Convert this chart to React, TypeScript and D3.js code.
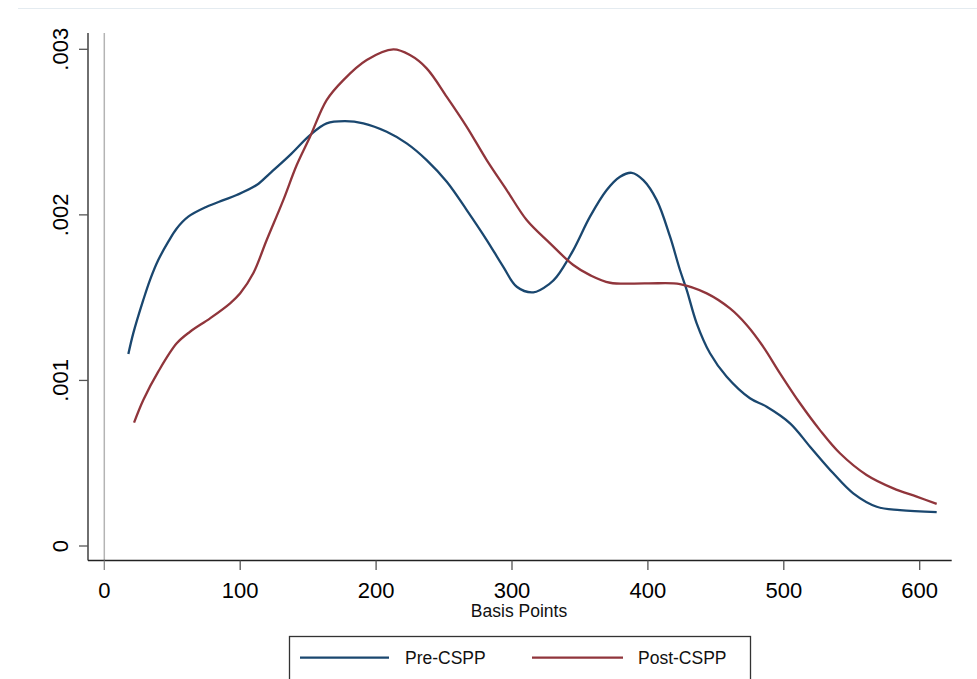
import * as d3 from "d3";
import { useEffect, useRef } from "react";

// kernel density estimates (basis points, density)
const preX = [17.7, 21.3, 28.7, 33.6, 39.7, 47.1, 53.3, 61.8, 75.3, 87.6, 97.4, 112.1, 121.9, 136.6, 151.4, 163.6, 177.1, 190.6, 207.8, 222.5, 237.2, 252.0, 266.7, 281.4, 293.6, 303.5, 315.7, 328.0, 332.9, 345.1, 357.4, 369.7, 379.5, 388.1, 396.6, 406.5, 416.3, 423.6, 428.6, 435.9, 445.7, 458.0, 475.1, 487.4, 504.6, 519.3, 536.4, 551.1, 568.4, 585.5, 612.5];
const preY = [1.159, 1.284, 1.486, 1.606, 1.727, 1.838, 1.918, 1.989, 2.049, 2.089, 2.12, 2.18, 2.251, 2.361, 2.482, 2.553, 2.566, 2.553, 2.502, 2.432, 2.331, 2.2, 2.029, 1.848, 1.686, 1.566, 1.532, 1.586, 1.626, 1.787, 1.989, 2.15, 2.23, 2.254, 2.21, 2.089, 1.868, 1.667, 1.546, 1.345, 1.164, 1.022, 0.892, 0.841, 0.741, 0.6, 0.439, 0.318, 0.237, 0.217, 0.204];
const postX = [21.9, 28.7, 39.7, 53.3, 63.1, 77.8, 92.6, 100.0, 109.6, 119.5, 131.7, 141.6, 151.4, 163.6, 175.9, 193.1, 212.7, 224.9, 237.2, 252.0, 266.7, 281.4, 296.1, 310.8, 328.0, 345.1, 357.4, 372.1, 399.1, 423.6, 443.3, 460.4, 472.7, 484.9, 497.2, 511.9, 526.6, 541.3, 560.9, 580.6, 597.8, 612.5];
const postY = [0.745, 0.882, 1.053, 1.224, 1.294, 1.375, 1.466, 1.526, 1.647, 1.848, 2.089, 2.301, 2.472, 2.693, 2.814, 2.935, 2.999, 2.965, 2.885, 2.713, 2.532, 2.331, 2.15, 1.969, 1.828, 1.697, 1.636, 1.59, 1.586, 1.582, 1.526, 1.435, 1.335, 1.203, 1.043, 0.862, 0.7, 0.56, 0.429, 0.348, 0.298, 0.254];

const xTicks = [0, 100, 200, 300, 400, 500, 600];
const yTicks = [0, 0.001, 0.002, 0.003];
const yTickLabels = ["0", ".001", ".002", ".003"];

const series = [
	{ name: "Pre-CSPP", xs: preX, ys: preY, color: "#1a476f" },
	{ name: "Post-CSPP", xs: postX, ys: postY, color: "#90353b" },
];

const FONT = "Arial, 'Liberation Sans', sans-serif";

export default function App() {
	const svgRef = useRef<SVGSVGElement>(null);

	useEffect(() => {
		if (!svgRef.current) return;
		const width = 977;
		const height = 679;
		const svg = d3.select(svgRef.current);
		svg.selectAll("*").remove();
		svg.attr("width", width).attr("height", height);

		const x = d3.scaleLinear().domain([0, 600]).range([104.3, 919.7]);
		const y = d3.scaleLinear().domain([0, 0.003]).range([546, 49.3]);

		const axisLeft = 88;
		const axisBottom = 560.5;

		// outer frame line
		svg.append("line")
			.attr("x1", 18).attr("x2", width)
			.attr("y1", 8.5).attr("y2", 8.5)
			.attr("stroke", "#e4ebf0").attr("stroke-width", 1.2);

		// vertical reference line at x = 0
		svg.append("line")
			.attr("x1", x(0)).attr("x2", x(0))
			.attr("y1", 33).attr("y2", axisBottom)
			.attr("stroke", "#b4b4b4").attr("stroke-width", 1.5);

		// Y axis
		svg.append("line")
			.attr("x1", axisLeft).attr("x2", axisLeft)
			.attr("y1", 33).attr("y2", axisBottom)
			.attr("stroke", "#222").attr("stroke-width", 1.3);

		svg.selectAll(".ytick")
			.data(yTicks)
			.enter()
			.append("line")
			.attr("x1", 79).attr("x2", axisLeft)
			.attr("y1", (d) => y(d)).attr("y2", (d) => y(d))
			.attr("stroke", "#555").attr("stroke-width", 1.3);

		svg.selectAll(".ylabel")
			.data(yTicks)
			.enter()
			.append("text")
			.attr("transform", (d) => `translate(68,${y(d)}) rotate(-90)`)
			.attr("text-anchor", "middle")
			.attr("font-family", FONT)
			.attr("font-size", "22px")
			.attr("fill", "#000")
			.text((_, i) => yTickLabels[i]);

		// X axis
		svg.append("line")
			.attr("x1", axisLeft).attr("x2", 951.7)
			.attr("y1", axisBottom).attr("y2", axisBottom)
			.attr("stroke", "#222").attr("stroke-width", 1.3);

		svg.selectAll(".xtick")
			.data(xTicks)
			.enter()
			.append("line")
			.attr("x1", (d) => x(d)).attr("x2", (d) => x(d))
			.attr("y1", axisBottom).attr("y2", 570)
			.attr("stroke", (d) => (d === 0 ? "#888" : "#555"))
			.attr("stroke-width", 1.3);

		svg.selectAll(".xlabel")
			.data(xTicks)
			.enter()
			.append("text")
			.attr("x", (d) => x(d))
			.attr("y", 597.5)
			.attr("text-anchor", "middle")
			.attr("font-family", FONT)
			.attr("font-size", "22px")
			.attr("fill", "#000")
			.text((d) => d);

		svg.append("text")
			.attr("x", 519).attr("y", 617)
			.attr("text-anchor", "middle")
			.attr("font-family", FONT)
			.attr("font-size", "17.5px")
			.attr("fill", "#111")
			.text("Basis Points");

		// density curves
		const line = d3
			.line<[number, number]>()
			.x((d) => x(d[0]))
			.y((d) => y(d[1] / 1000))
			.curve(d3.curveCatmullRom.alpha(0.5));

		series.forEach((s) => {
			const pts: [number, number][] = s.xs.map((v, i) => [v, s.ys[i]]);
			svg.append("path")
				.datum(pts)
				.attr("d", line)
				.attr("fill", "none")
				.attr("stroke", s.color)
				.attr("stroke-width", 2.3)
				.attr("stroke-linejoin", "round");
		});

		// legend
		svg.append("rect")
			.attr("x", 289.5).attr("y", 636.5)
			.attr("width", 461).attr("height", 60)
			.attr("fill", "#fff")
			.attr("stroke", "#333").attr("stroke-width", 1.3);

		const legendItems = [
			{ x1: 300, x2: 389, tx: 405 },
			{ x1: 532, x2: 623, tx: 638 },
		];
		series.forEach((s, i) => {
			const it = legendItems[i];
			svg.append("line")
				.attr("x1", it.x1).attr("x2", it.x2)
				.attr("y1", 657.7).attr("y2", 657.7)
				.attr("stroke", s.color).attr("stroke-width", 2.3);
			svg.append("text")
				.attr("x", it.tx).attr("y", 664)
				.attr("font-family", FONT)
				.attr("font-size", "17.5px")
				.attr("fill", "#111")
				.text(s.name);
		});
	}, []);

	return (
		<div style={{ position: "fixed", left: 0, top: 0, width: 977, height: 679, background: "#fff", overflow: "hidden" }}>
			<svg ref={svgRef} style={{ display: "block" }} />
		</div>
	);
}
